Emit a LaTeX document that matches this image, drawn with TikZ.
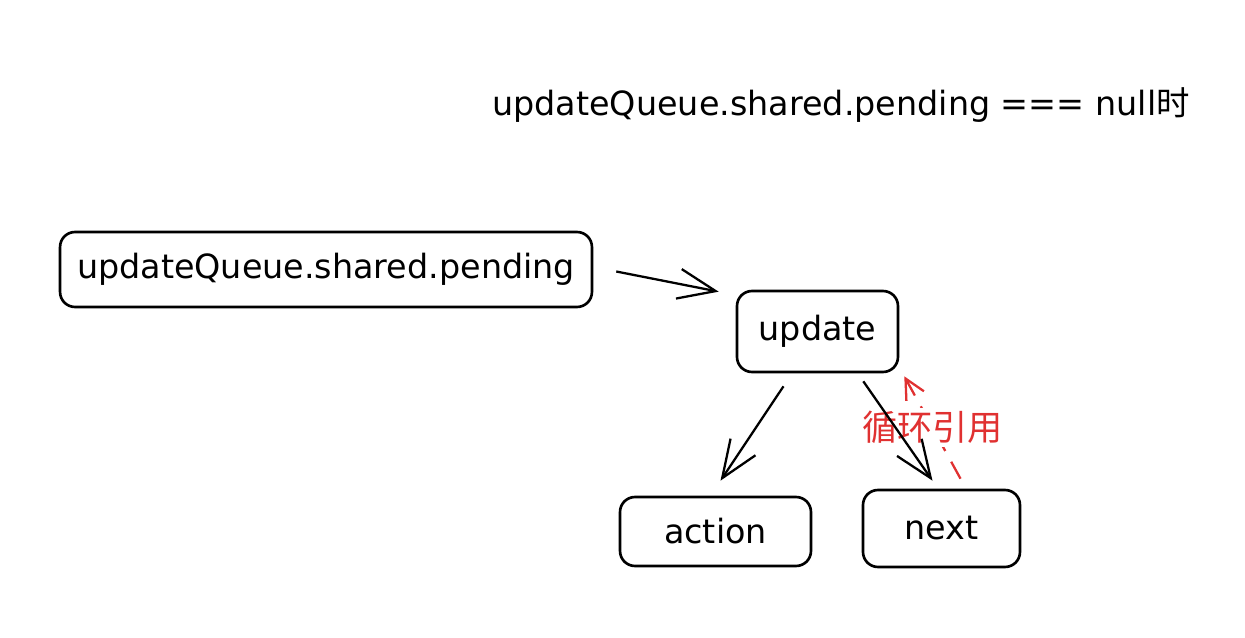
\documentclass[tikz,border=0pt]{standalone}
\usepackage{fontspec}
\setmainfont{DejaVu Sans}
\newfontfamily\cjk{Noto Sans CJK SC}
\usepackage{xcolor}
\usepackage{tikz}
\usetikzlibrary{arrows.meta}
\definecolor{sketchred}{HTML}{E03131}

\begin{document}
\begin{tikzpicture}[
    x=0.02cm, y=-0.02cm,
    box/.style={rectangle, draw=black, line width=1.5pt, rounded corners=0.3cm, inner sep=0pt, font=\fontsize{19}{23}\selectfont},
    arr/.style={line width=1.3pt, -{Straight Barb[length=0.75cm, width=0.6cm, line width=1.3pt]}},
    loop/.style={draw=sketchred, line width=1.3pt, dash pattern=on 11pt off 7pt, -{Straight Barb[length=0.4cm, width=0.4cm, line width=1.3pt]}}
]
\useasboundingbox (0,0) rectangle (1245,638);
\node (title) at (841,105) [font=\fontsize{19}{23}\selectfont] {updateQueue.shared.pending === null{\cjk 时}};
\node (pending) at (326,269.5) [box, minimum width=10.64cm, minimum height=1.5cm] {updateQueue.shared.pending};
\node (update) at (817.5,331.5) [box, minimum width=3.22cm, minimum height=1.62cm] {update};
\node (action) at (715.5,531.5) [box, minimum width=3.82cm, minimum height=1.38cm] {action};
\node (next) at (941.5,528.5) [box, minimum width=3.14cm, minimum height=1.54cm] {next};

% the red label hides its own line, the black arrow runs over it
\draw[loop] ([shift={(19,-10)}]next.north) -- node[midway, fill=white, inner sep=2pt, text=sketchred, font=\cjk\fontsize{20}{24}\selectfont] (cycle) {循环引用} ([shift={(5,3)}]update.south east);
\draw[arr] ([shift={(23,2)}]pending.east) -- ([shift={(-17,2)}]update.north west);
\draw[arr] ([shift={(-34,13)}]update.south) -- ([shift={(5,-15)}]action.north);
\draw[arr] ([shift={(-36,8)}]update.south east) -- ([shift={(-9,-8)}]next.north);
\end{tikzpicture}
\end{document}
